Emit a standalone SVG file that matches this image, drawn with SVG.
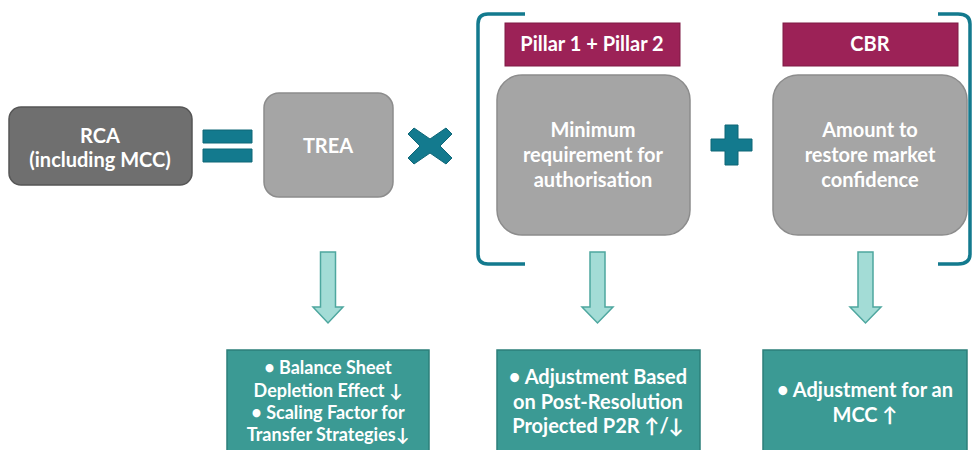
<svg xmlns="http://www.w3.org/2000/svg" width="972" height="450" viewBox="0 0 972 450">
<style>
text{font-family:Lato,"Open Sans","Liberation Sans",sans-serif;font-weight:bold;fill:#ffffff;text-anchor:middle}
.t19{font-size:20px}
.t17{font-size:18px}
.gray{fill:#a5a5a5;stroke:#8c8c8c;stroke-width:1.5}
.dark{fill:#6f6f6f;stroke:#565656;stroke-width:1.5}
.lab{fill:#9c2257;stroke:#7e1a45;stroke-width:1}
.res{fill:#3b9a94;stroke:#2d7f7a;stroke-width:1.5}
.op{fill:#137a8e;stroke:#0f6677;stroke-width:1;stroke-linejoin:round}
.arr{fill:#a3dcd6;stroke:#4ea79f;stroke-width:1.5}
.br{fill:none;stroke:#137a8e;stroke-width:3.5}
</style>
<rect width="972" height="450" fill="#ffffff"/>
<g id="rca"><rect class="dark" x="9" y="107" width="183" height="78" rx="12"/><text class="t19" x="100" y="143">RCA</text><text class="t19" x="100" y="167">(including MCC)</text></g>
<g id="equals"><rect class="op" x="203" y="130" width="49" height="13"/><rect class="op" x="203" y="149" width="49" height="13"/></g>
<g id="trea"><rect class="gray" x="264" y="93" width="129" height="104" rx="15"/><text class="t19" x="328" y="153">TREA</text></g>
<g id="times"><path class="op" d="M414,128 L430,139 L446,128 L452,134 L440,146 L452,158 L446,164 L430,153 L414,164 L408,158 L420,146 L408,134 Z"/></g>
<g id="bracket"><path class="br" d="M525,14 L488,14 Q478,14 478,24 L478,254 Q478,264 488,264 L525,264"/><path class="br" d="M938,14 L958,14 Q970,14 970,24 L970,254 Q970,264 958,264 L938,264"/></g>
<g id="pillar"><rect class="lab" x="505" y="23" width="175" height="43"/><text class="t19" x="592" y="51">Pillar 1 + Pillar 2</text></g>
<g id="minreq"><rect class="gray" x="497" y="75" width="193" height="160" rx="25"/><text class="t19" x="593" y="137">Minimum</text><text class="t19" x="593" y="162">requirement for</text><text class="t19" x="593" y="187">authorisation</text></g>
<g id="plus"><path class="op" d="M725,125 L738,125 L738,139 L752,139 L752,151 L738,151 L738,165 L725,165 L725,151 L711,151 L711,139 L725,139 Z"/></g>
<g id="cbr"><rect class="lab" x="783" y="23" width="175" height="43"/><text class="t19" x="870" y="51">CBR</text></g>
<g id="amount"><rect class="gray" x="773" y="75" width="194" height="160" rx="25"/><text class="t19" x="870" y="137">Amount to</text><text class="t19" x="870" y="162">restore market</text><text class="t19" x="870" y="187">confidence</text></g>
<g id="connectors">
<path class="arr" d="M320.5,252 L335.5,252 L335.5,307 L343,307 L328,323 L313,307 L320.5,307 Z"/>
<path class="arr" d="M590,252 L605,252 L605,307 L613,307 L597.5,323 L582,307 L590,307 Z"/>
<path class="arr" d="M858,252 L873,252 L873,307 L881,307 L865.5,323 L850,307 L858,307 Z"/>
</g>
<g id="res1"><rect class="res" x="227" y="350" width="202" height="110"/><text class="t17" x="328" y="374">• Balance Sheet</text><text class="t17" x="328" y="397">Depletion Effect ↓</text><text class="t17" x="328" y="419">• Scaling Factor for</text><text class="t17" x="328" y="441">Transfer Strategies↓</text></g>
<g id="res2"><rect class="res" x="497" y="350" width="203" height="110"/><text class="t19" x="598" y="384">• Adjustment Based</text><text class="t19" x="598" y="409">on Post-Resolution</text><text class="t19" x="598" y="433">Projected P2R ↑/↓</text></g>
<g id="res3"><rect class="res" x="763" y="350" width="204" height="110"/><text class="t19" x="865" y="397">• Adjustment for an</text><text class="t19" x="865" y="422">MCC ↑</text></g>
</svg>
